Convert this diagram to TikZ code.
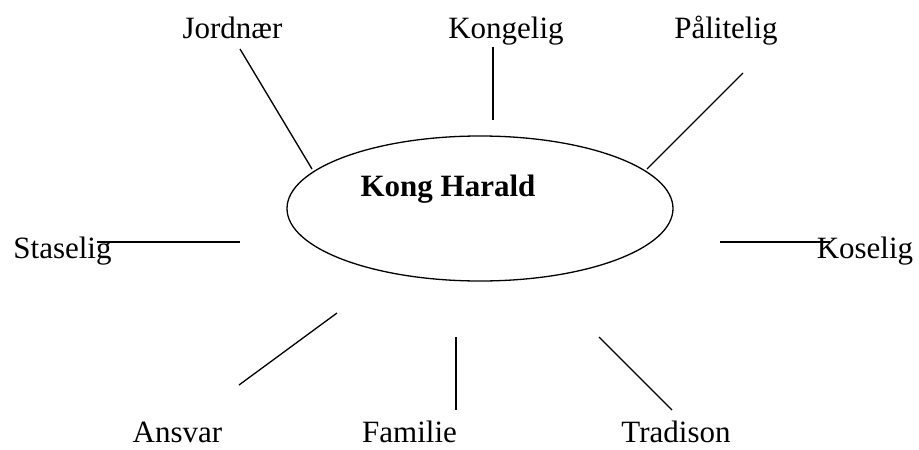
\documentclass[tikz,border=0pt]{standalone}
\usepackage{fontspec}
\setmainfont{Liberation Serif}
\usetikzlibrary{shapes.geometric}
\begin{document}
\begin{tikzpicture}[x=1pt,y=-1pt,
  lbl/.style={anchor=base,inner sep=0pt,font=\fontsize{31}{37}\selectfont},
  spoke/.style={line width=1.3pt},
  hub/.style={ellipse,draw,line width=1.3pt,minimum width=386pt,minimum height=145pt,inner sep=0pt}]
\useasboundingbox (0,0) rectangle (919,450);
\node[hub] (kh) at (480,208.5) {};
\node[lbl,font=\fontsize{31}{37}\selectfont\bfseries] (khtxt) at (448,196) {Kong Harald};
\node[lbl] (jord) at (232.5,38) {Jordnær};
\node[lbl] (kong) at (506,38) {Kongelig};
\node[lbl] (paal) at (726,38) {Pålitelig};
\node[lbl] (stas) at (62.5,258) {Staselig};
\node[lbl] (kose) at (865,258) {Koselig};
\node[lbl] (ansv) at (177.5,442) {Ansvar};
\node[lbl] (fam) at (409.5,442) {Familie};
\node[lbl] (trad) at (676,442) {Tradison};
\coordinate (j1) at (240,49);   \coordinate (j2) at (312,169);
\coordinate (k1) at (493,47);   \coordinate (k2) at (493,120);
\coordinate (p1) at (743,73);   \coordinate (p2) at (647,169);
\coordinate (s1) at (97,242);   \coordinate (s2) at (240,242);
\coordinate (ko1) at (720,242); \coordinate (ko2) at (830,242);
\coordinate (a1) at (337,313);  \coordinate (a2) at (239,385);
\coordinate (f1) at (456,337);  \coordinate (f2) at (456,410);
\coordinate (t1) at (599,337);  \coordinate (t2) at (672,410);
\draw[spoke] (j1) -- (j2);
\draw[spoke] (k1) -- (k2);
\draw[spoke] (p1) -- (p2);
\draw[spoke] (s1) -- (s2);
\draw[spoke] (ko1) -- (ko2);
\draw[spoke] (a1) -- (a2);
\draw[spoke] (f1) -- (f2);
\draw[spoke] (t1) -- (t2);
\end{tikzpicture}
\end{document}
